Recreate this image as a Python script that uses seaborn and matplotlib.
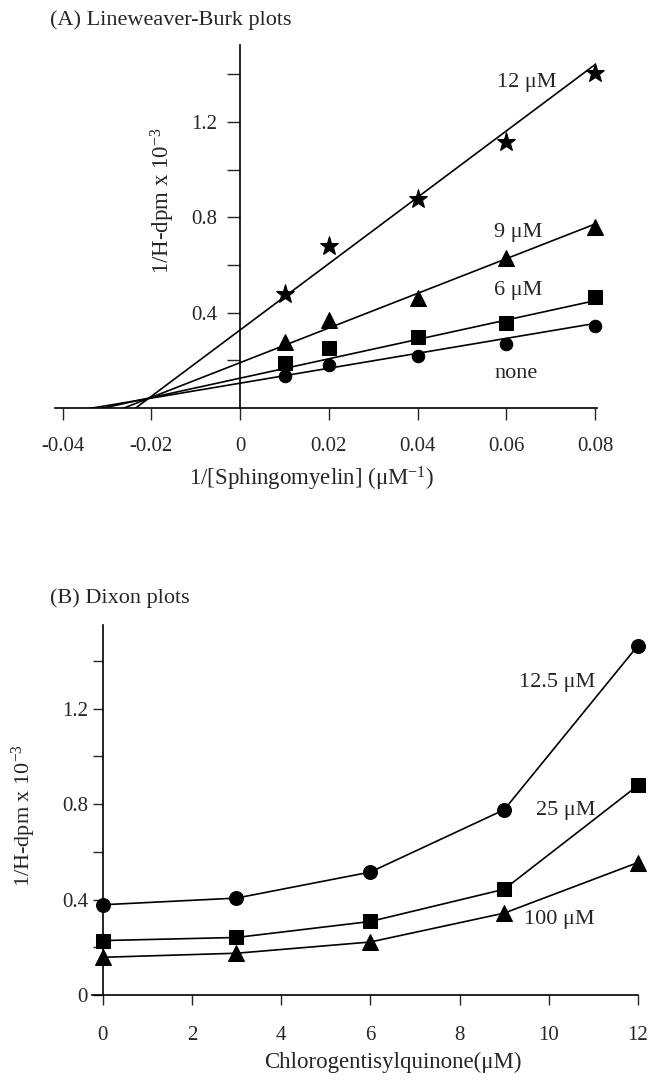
import numpy as np
import pandas as pd
import seaborn as sns
import matplotlib.pyplot as plt

# (A) Lineweaver-Burk: 1/[Sphingomyelin] (uM^-1) vs 1/H-dpm x 10^-3
inv_sm = [0.01, 0.02, 0.04, 0.06, 0.08]
lb_none = [0.135, 0.181, 0.219, 0.269, 0.346]
lb_6uM = [0.190, 0.251, 0.300, 0.359, 0.465]
lb_9uM = [0.279, 0.370, 0.460, 0.628, 0.758]
lb_12uM = [0.479, 0.680, 0.875, 1.116, 1.405]
lb_names = ['none', '6 μM', '9 μM', '12 μM']
lb_markers = ['o', 's', '^', '*']
lb_msize = [9, 9.5, 11, 14]

# straight lines as drawn in the figure: value at x = 0 and slope
fit_y0 = [0.105, 0.126, 0.191, 0.328]
fit_slope = [3.13, 4.06, 7.26, 13.9]

a_xticks = [-0.04, -0.02, 0, 0.02, 0.04, 0.06, 0.08]
a_xticklabels = ['-0.04', '-0.02', '0', '0.02', '0.04', '0.06', '0.08']
a_yticks = [0.2, 0.4, 0.6, 0.8, 1.0, 1.2, 1.4]
a_yticklabels = ['', '0.4', '', '0.8', '', '1.2', '']

# (B) Dixon: chlorogentisylquinone (uM) vs 1/H-dpm x 10^-3
inhib = [0, 3, 6, 9, 12]
dx_12_5 = [0.378, 0.406, 0.515, 0.776, 1.464]
dx_25 = [0.228, 0.241, 0.308, 0.443, 0.878]
dx_100 = [0.158, 0.175, 0.222, 0.343, 0.555]
dx_names = ['12.5 μM', '25 μM', '100 μM']
dx_markers = ['o', 's', '^']
dx_msize = [10, 10, 12]

b_xticks = [0, 2, 4, 6, 8, 10, 12]
b_yticks = [0, 0.2, 0.4, 0.6, 0.8, 1.0, 1.2, 1.4]
b_yticklabels = ['0', '', '0.4', '', '0.8', '', '1.2', '']

sns.set_style('white')
plt.rcParams['font.family'] = ['Liberation Serif', 'DejaVu Serif']
plt.rcParams['mathtext.default'] = 'regular'
plt.rcParams['font.size'] = 15

lb = pd.DataFrame({'x': inv_sm * 4,
                   'y': lb_none + lb_6uM + lb_9uM + lb_12uM,
                   'set': np.repeat(lb_names, len(inv_sm))})
dx = pd.DataFrame({'x': inhib * 3,
                   'y': dx_12_5 + dx_25 + dx_100,
                   'set': np.repeat(dx_names, len(inhib))})

fig = plt.figure(figsize=(6.5, 10.8), dpi=100)
ax1 = fig.add_axes([0.084, 0.622, 0.8345, 0.336])
ax2 = fig.add_axes([0.1408, 0.0787, 0.8407, 0.3426])

# ---- panel A
xl = np.array([-0.0418, 0.08])
for name, mk, ms, b0, b1 in zip(lb_names, lb_markers, lb_msize, fit_y0, fit_slope):
    sns.lineplot(x=xl, y=b0 + b1 * xl, color='black', lw=1.2, ax=ax1)
    sns.lineplot(data=lb[lb['set'] == name], x='x', y='y', marker=mk, markersize=ms,
                 linestyle='', color='black', markeredgecolor='black', clip_on=False, ax=ax1)

ax1.set_xlim(-0.0418, 0.0804)
ax1.set_ylim(0, 1.52)
ax1.set_xticks(a_xticks, a_xticklabels)
ax1.set_yticks(a_yticks, a_yticklabels)
ax1.tick_params(axis='x', direction='out', length=8.5, width=1, pad=12, bottom=True)
ax1.tick_params(axis='y', direction='out', length=9.5, width=1, pad=7, left=True)
ax1.set_xlabel('1/[Sphingomyelin] (μM$^{-1}$)', fontsize=16.5, va='center')
ax1.xaxis.set_label_coords(0.4746, -0.1946)
ax1.set_ylabel('1/H-dpm x 10$^{-3}$', fontsize=16.5, va='center')
ax1.yaxis.set_label_coords(0.1998, 0.573)

ax1.text(0.0646, 1.363, '12 μM', ha='center', va='center', fontsize=16)
ax1.text(0.0626, 0.735, '9 μM', ha='center', va='center', fontsize=16)
ax1.text(0.0626, 0.492, '6 μM', ha='center', va='center', fontsize=16)
ax1.text(0.0622, 0.144, 'none', ha='center', va='center', fontsize=16)

# ---- panel B
for name, mk, ms in zip(dx_names, dx_markers, dx_msize):
    sns.lineplot(data=dx[dx['set'] == name], x='x', y='y', marker=mk, markersize=ms,
                 color='black', markeredgecolor='black', lw=1.2, clip_on=False, ax=ax2)

ax2.set_xlim(-0.25, 12.0)
ax2.set_ylim(0, 1.55)
ax2.set_xticks(b_xticks)
ax2.set_yticks(b_yticks, b_yticklabels)
ax2.tick_params(axis='x', direction='out', length=7.5, width=1, pad=14.5, bottom=True)
ax2.tick_params(axis='y', direction='out', length=7.5, width=1, pad=3, left=True)
ax2.set_xlabel('Chlorogentisylquinone(μM)', fontsize=16.5, va='center')
ax2.xaxis.set_label_coords(0.5517, -0.183)
ax2.set_ylabel('1/H-dpm x 10$^{-3}$', fontsize=16, va='center')
ax2.yaxis.set_label_coords(-0.1235, 0.486)

ax2.text(10.19, 1.311, '12.5 μM', ha='center', va='center', fontsize=16)
ax2.text(10.37, 0.775, '25 μM', ha='center', va='center', fontsize=16)
ax2.text(10.24, 0.315, '100 μM', ha='center', va='center', fontsize=16)

for ax in (ax1, ax2):
    sns.despine(ax=ax)
    ax.spines['left'].set_position(('data', 0))
    for s in ('left', 'bottom'):
        ax.spines[s].set_linewidth(1.2)
        ax.spines[s].set_color('black')

fig.text(50 / 650, 1 - 20 / 1080, '(A) Lineweaver-Burk plots', ha='left', va='center', fontsize=16)
fig.text(50 / 650, 1 - 598 / 1080, '(B) Dixon plots', ha='left', va='center', fontsize=16)

plt.savefig('out.png', dpi=100, facecolor='w')
